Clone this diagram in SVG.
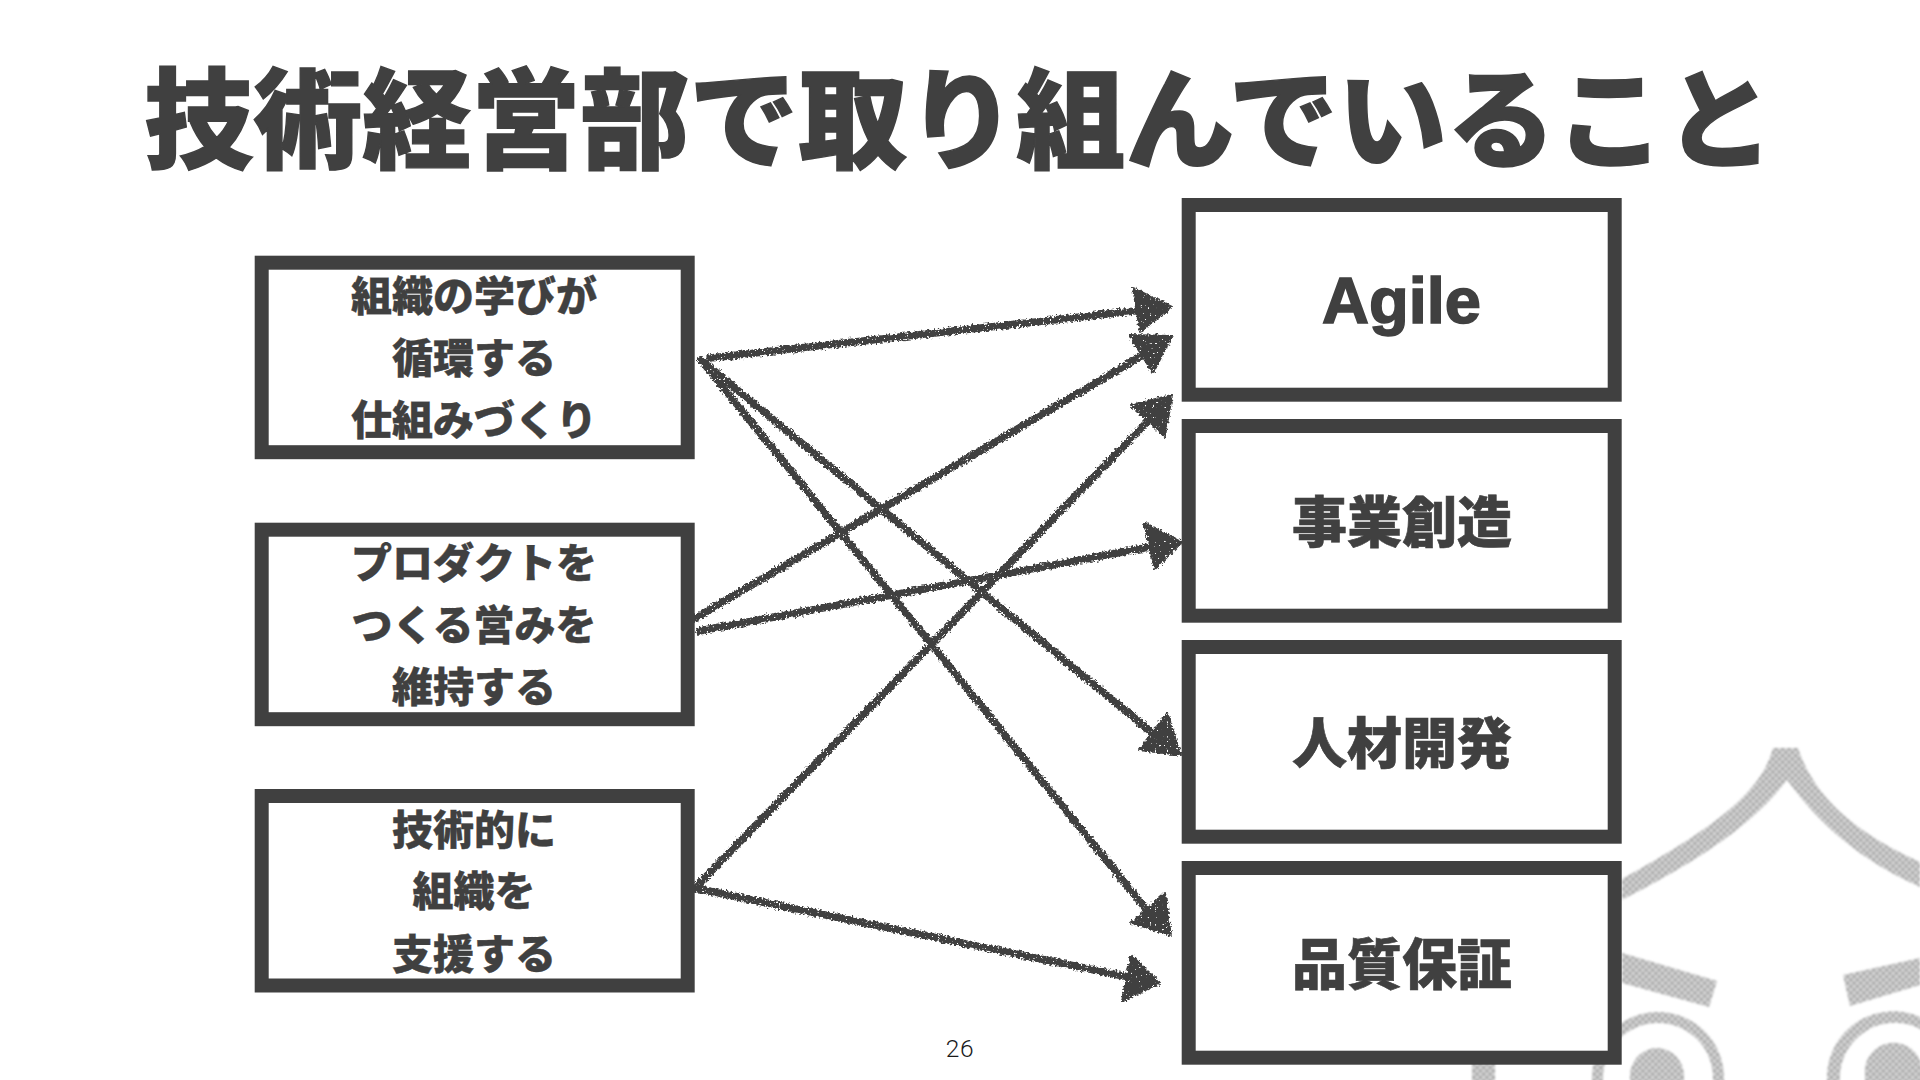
<svg xmlns="http://www.w3.org/2000/svg" width="1920" height="1080" viewBox="0 0 1920 1080">
  <style>
    .title { font-family: "Noto Sans CJK JP", "Liberation Sans", sans-serif; font-weight: 900; font-size: 109px; fill: #404040; stroke: #404040; stroke-width: 1.4; text-anchor: middle; }
    .box { fill: #ffffff; stroke: #404040; stroke-width: 14; }
    .lbl { font-family: "Noto Sans CJK JP", "Liberation Sans", sans-serif; font-weight: 900; font-size: 41px; fill: #404040; stroke: #404040; stroke-width: 0.4; text-anchor: middle; }
    .big { font-family: "Noto Sans CJK JP", "Liberation Sans", sans-serif; font-weight: 900; font-size: 55px; fill: #404040; stroke: #404040; stroke-width: 0.6; text-anchor: middle; }
    .latin { font-family: "Liberation Sans", Arial, sans-serif; font-weight: 700; font-size: 65px; fill: #404040; stroke: #404040; stroke-width: 1.6; text-anchor: middle; }
    .page { font-family: Roboto, "Liberation Sans", sans-serif; font-weight: 300; font-size: 24.5px; letter-spacing: 0.6px; fill: #1a1a1a; text-anchor: middle; }
    .ln { fill: none; stroke: #404040; stroke-width: 7.5; stroke-linecap: round; }
    .hd { fill: #404040; stroke: #404040; stroke-width: 2; stroke-linejoin: round; }
  </style>
  <defs>
    <pattern id="checker" patternUnits="userSpaceOnUse" width="6.5" height="6.5">
      <rect width="6.5" height="6.5" fill="#dadada"/>
      <rect width="3.25" height="3.25" fill="#a6a6a6"/>
      <rect x="3.25" y="3.25" width="3.25" height="3.25" fill="#a6a6a6"/>
    </pattern>
    <filter id="soft" x="-5%" y="-5%" width="110%" height="110%">
      <feGaussianBlur stdDeviation="0.9"/>
    </filter>
    <filter id="chalk" filterUnits="userSpaceOnUse" x="680" y="270" width="520" height="750" color-interpolation-filters="sRGB">
      <feTurbulence type="fractalNoise" baseFrequency="0.42" numOctaves="2" seed="4" result="n"/>
      <feDisplacementMap in="SourceGraphic" in2="n" scale="6" xChannelSelector="R" yChannelSelector="G" result="d"/>
      <feColorMatrix in="n" type="matrix" values="0 0 0 0 0  0 0 0 0 0  0 0 0 0 0  14 0 0 0 -3.2" result="m"/>
      <feComposite in="d" in2="m" operator="in"/>
    </filter>
  </defs>

  <rect width="1920" height="1080" fill="#ffffff"/>

  <g id="emblem" filter="url(#soft)" fill="url(#checker)">
    <path d="M1773 748 C1762 790 1720 825 1622 879 L1622 900 C1720 850 1760 815 1787 780 C1820 825 1860 860 1920 887 L1920 862 C1860 835 1815 800 1798 748 Z"/>
    <path d="M1622 953 L1717 981 L1709 1007 L1622 983 Z"/>
    <path d="M1843 975 L1920 958 L1920 985 L1850 1006 Z"/>
    <path d="M1592 1082 L1592 1078 A66 66 0 0 1 1724 1078 L1724 1082 L1713 1082 L1713 1078 A55 55 0 0 0 1603 1078 L1603 1082 Z"/>
    <path d="M1630 1082 L1630 1076 A27 28 0 0 1 1684 1076 L1684 1082 Z"/>
    <path d="M1827 1082 L1827 1078 A66 66 0 0 1 1922 1018 L1922 1030 A55 55 0 0 0 1840 1082 Z"/>
    <path d="M1865 1082 L1865 1075 A28 28 0 0 1 1922 1068 L1922 1082 Z"/>
    <rect x="1472" y="1060" width="23" height="22"/>
  </g>

  <text id="title" class="title" x="959" y="160">技術経営部で取り組んでいること</text>

  <g id="connectors" filter="url(#chalk)">
    <g id="c1">
      <path class="ln" d="M710 358 L1152 309"/>
      <polygon class="hd" points="1133,288 1172,307 1140,332"/>
    </g>
    <g id="c2">
      <path class="ln" d="M701 360 L1155 735"/>
      <polygon class="hd" points="1167,713 1181,755 1139,750"/>
    </g>
    <g id="c3">
      <path class="ln" d="M701 360 L1150 914"/>
      <polygon class="hd" points="1165,893 1171,935 1131,923"/>
    </g>
    <g id="c4">
      <path class="ln" d="M694 619 L1150 351"/>
      <polygon class="hd" points="1129,335 1172,336 1153,373"/>
    </g>
    <g id="c5">
      <path class="ln" d="M699 631 L1155 546"/>
      <polygon class="hd" points="1144,523 1182,542 1155,569"/>
    </g>
    <g id="c6">
      <path class="ln" d="M694 889 L1150 419"/>
      <polygon class="hd" points="1131,405 1172,395 1165,437"/>
    </g>
    <g id="c7">
      <path class="ln" d="M694 888 L1138 979"/>
      <polygon class="hd" points="1131,955 1160,983 1122,1001"/>
    </g>
  </g>

  <g id="n-left1">
    <rect class="box" x="261.7" y="262.7" width="426" height="189.5"/>
    <text class="lbl" x="474" y="311">組織の学びが</text>
    <text class="lbl" x="474" y="373">循環する</text>
    <text class="lbl" x="474" y="435">仕組みづくり</text>
  </g>
  <g id="n-left2">
    <rect class="box" x="261.7" y="529.7" width="426" height="189.5"/>
    <text class="lbl" x="474" y="578">プロダクトを</text>
    <text class="lbl" x="474" y="640">つくる営みを</text>
    <text class="lbl" x="474" y="702">維持する</text>
  </g>
  <g id="n-left3">
    <rect class="box" x="261.7" y="796" width="426" height="189.5"/>
    <text class="lbl" x="474" y="845">技術的に</text>
    <text class="lbl" x="474" y="906">組織を</text>
    <text class="lbl" x="474" y="969">支援する</text>
  </g>

  <g id="n-right1">
    <rect class="box" x="1188.7" y="205" width="426" height="189.7"/>
    <text class="latin" x="1401.5" y="323">Agile</text>
  </g>
  <g id="n-right2">
    <rect class="box" x="1188.7" y="426" width="426" height="189.7"/>
    <text class="big" x="1402" y="542">事業創造</text>
  </g>
  <g id="n-right3">
    <rect class="box" x="1188.7" y="647" width="426" height="189.7"/>
    <text class="big" x="1402" y="763">人材開発</text>
  </g>
  <g id="n-right4">
    <rect class="box" x="1188.7" y="868" width="426" height="189.7"/>
    <text class="big" x="1402" y="984">品質保証</text>
  </g>

  <text id="page" class="page" x="960" y="1057">26</text>
</svg>
